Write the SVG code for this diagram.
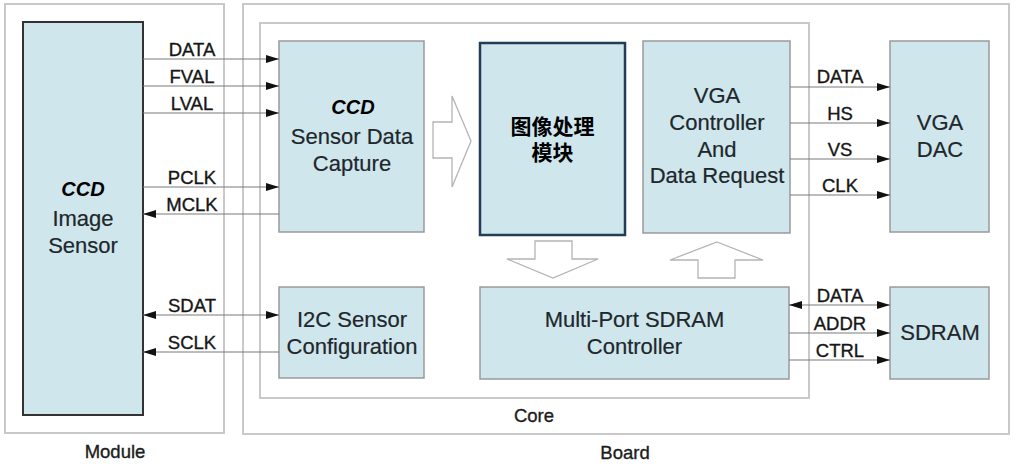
<svg xmlns="http://www.w3.org/2000/svg" width="1016" height="466" viewBox="0 0 1016 466">
<style>
.frame{fill:#fff;stroke:#c9c9c9;stroke-width:2}
.blk{fill:#cfe6ed;stroke:#9a9a9a;stroke-width:1.5}
.lbl{font-family:"Liberation Sans",Arial,sans-serif;font-size:22px;fill:#20272a;stroke:#20272a;stroke-width:0.2;text-anchor:middle}
.sig{font-family:"Liberation Sans",Arial,sans-serif;font-size:18.5px;fill:#161616;stroke:#161616;stroke-width:0.35;text-anchor:middle}
.cap{font-family:"Liberation Sans",Arial,sans-serif;font-size:18.5px;fill:#1c1c1c;stroke:#1c1c1c;stroke-width:0.35;text-anchor:middle}
.ccd{font-family:"Liberation Sans",Arial,sans-serif;font-size:20px;font-weight:bold;font-style:italic;fill:#000;text-anchor:middle}
.cjk{font-family:"Liberation Sans","Noto Sans CJK SC",sans-serif;font-size:21px;font-weight:bold;fill:#000;text-anchor:middle}
.wire{fill:none;stroke:#7a7a7a;stroke-width:1.2}
.hollow{fill:#fff;stroke:#b4b4b4;stroke-width:1.3}
</style>
<defs>
<marker id="ah" viewBox="0 0 13 8" refX="13" refY="4" markerWidth="13" markerHeight="8" markerUnits="userSpaceOnUse" orient="auto-start-reverse">
<path d="M0,0 L13,4 L0,8 Z" fill="#111"/>
</marker>
</defs>
<rect width="1016" height="466" fill="#fff"/>

<g id="module">
<rect class="frame" x="5" y="4" width="219" height="429"/>
<text class="cap" x="115" y="458">Module</text>
</g>
<g id="board">
<rect class="frame" x="243" y="4" width="766" height="430"/>
<text class="cap" x="625" y="459">Board</text>
</g>
<g id="core">
<rect class="frame" x="260" y="23" width="549" height="375"/>
<text class="cap" x="534" y="422">Core</text>
</g>

<g id="ccd-image-sensor">
<rect x="23" y="22" width="120" height="393" fill="#cfe6ed" stroke="#333" stroke-width="2"/>
<text class="ccd" x="83" y="196">CCD</text>
<text class="lbl" x="83" y="226">Image</text>
<text class="lbl" x="83" y="253">Sensor</text>
</g>

<g id="sensor-data-capture">
<rect class="blk" x="279" y="41" width="145" height="191"/>
<text class="ccd" x="353" y="114">CCD</text>
<text class="lbl" x="352" y="144">Sensor Data</text>
<text class="lbl" x="352" y="171">Capture</text>
</g>

<g id="i2c-config">
<rect class="blk" x="279" y="287" width="145" height="91"/>
<text class="lbl" x="352" y="327">I2C Sensor</text>
<text class="lbl" x="352" y="354">Configuration</text>
</g>

<g id="image-processing">
<rect x="480" y="43" width="145" height="192" fill="#cfe6ed" stroke="#243b5a" stroke-width="2.5"/>
<text class="cjk" x="552.5" y="134">图像处理</text>
<text class="cjk" x="552.5" y="160">模块</text>
</g>

<g id="vga-controller">
<rect class="blk" x="643" y="41" width="147" height="192"/>
<text class="lbl" x="717" y="103">VGA</text>
<text class="lbl" x="717" y="130">Controller</text>
<text class="lbl" x="717" y="157">And</text>
<text class="lbl" x="717" y="183">Data Request</text>
</g>

<g id="vga-dac">
<rect class="blk" x="890" y="41" width="99" height="191"/>
<text class="lbl" x="940" y="130">VGA</text>
<text class="lbl" x="940" y="157">DAC</text>
</g>

<g id="sdram-controller">
<rect class="blk" x="480" y="287" width="309" height="92"/>
<text class="lbl" x="634.5" y="327">Multi-Port SDRAM</text>
<text class="lbl" x="634.5" y="354">Controller</text>
</g>

<g id="sdram">
<rect class="blk" x="890" y="287" width="99" height="92"/>
<text class="lbl" x="940" y="340">SDRAM</text>
</g>

<g id="connectors">
<path class="wire" d="M143,59 H279" marker-end="url(#ah)"/>
<path class="wire" d="M143,86 H279" marker-end="url(#ah)"/>
<path class="wire" d="M143,113 H279" marker-end="url(#ah)"/>
<path class="wire" d="M143,187 H279" marker-end="url(#ah)"/>
<path class="wire" d="M279,214 H143" marker-end="url(#ah)"/>
<path class="wire" d="M143,315 H279" marker-start="url(#ah)" marker-end="url(#ah)"/>
<path class="wire" d="M279,352 H143" marker-end="url(#ah)"/>
<path class="wire" d="M790,87 H890" marker-end="url(#ah)"/>
<path class="wire" d="M790,123 H890" marker-end="url(#ah)"/>
<path class="wire" d="M790,159 H890" marker-end="url(#ah)"/>
<path class="wire" d="M790,195 H890" marker-end="url(#ah)"/>
<path class="wire" d="M789,305 H890" marker-start="url(#ah)" marker-end="url(#ah)"/>
<path class="wire" d="M789,333 H890" marker-end="url(#ah)"/>
<path class="wire" d="M789,360 H890" marker-end="url(#ah)"/>
<polygon class="hollow" points="433,122 452,122 452,96 471,141 452,187 452,158 433,158"/>
<polygon class="hollow" points="535,241 572,241 572,259 598,259 553,278 507,259 535,259"/>
<polygon class="hollow" points="717,242 763,260 735,260 735,278 698,278 698,260 670,260"/>
<text class="sig" x="192" y="56">DATA</text>
<text class="sig" x="192" y="83">FVAL</text>
<text class="sig" x="192" y="110">LVAL</text>
<text class="sig" x="192" y="184">PCLK</text>
<text class="sig" x="192" y="211">MCLK</text>
<text class="sig" x="192" y="312">SDAT</text>
<text class="sig" x="192" y="349">SCLK</text>
<text class="sig" x="840" y="83">DATA</text>
<text class="sig" x="840" y="120">HS</text>
<text class="sig" x="840" y="156">VS</text>
<text class="sig" x="840" y="192">CLK</text>
<text class="sig" x="840" y="302">DATA</text>
<text class="sig" x="840" y="330">ADDR</text>
<text class="sig" x="840" y="357">CTRL</text>
</g>
</svg>
